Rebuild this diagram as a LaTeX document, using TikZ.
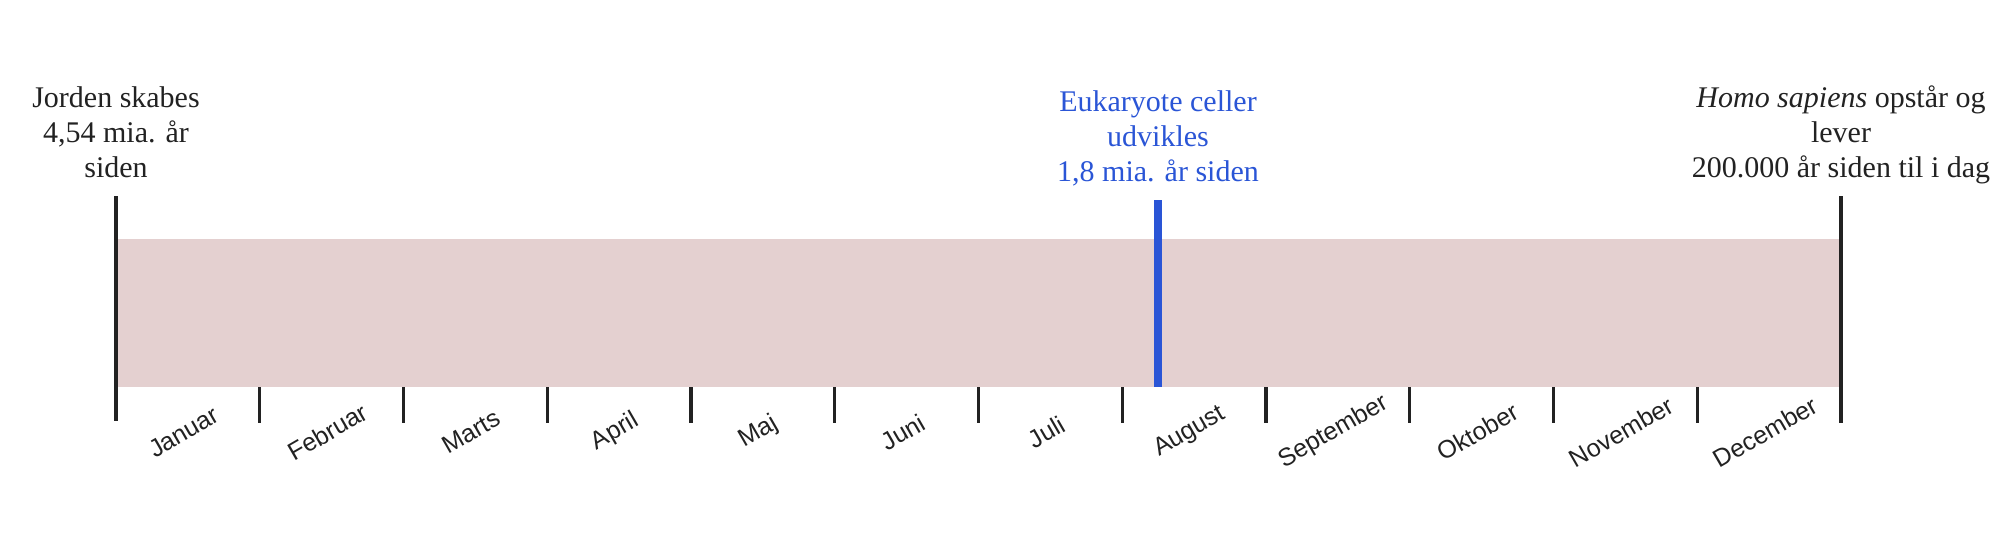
\documentclass[tikz,border=0pt]{standalone}
\usepackage{fontspec}
\setmainfont{Liberation Serif}
\newfontfamily\monthfont{Liberation Sans}
\usetikzlibrary{positioning}
\definecolor{Ink}{HTML}{222222}
\definecolor{Band}{HTML}{E4D0D0}
\definecolor{Event}{HTML}{2A55D6}
\tikzset{band/.style={fill=Band,draw=none},
  era/.style={line width=1.6pt,draw=Ink},
  evtline/.style={line width=4pt,draw=Event},
  evttext/.style={align=center,inner sep=0pt,text depth=0pt,
    font=\fontsize{15}{17.5}\selectfont,text=Ink},
  monthlabel/.style={rotate=30,inner sep=0pt,
    font=\monthfont\fontsize{12.5}{14}\selectfont,text=Ink}}
\begin{document}
\begin{tikzpicture}[x=0.5pt,y=-0.5pt]
  \useasboundingbox (0,0) rectangle (2007,537);
  \fill[band] (116,239) rectangle (1842,387);
  % start and end of the year
  \coordinate (starttop) at (116,196);
  \coordinate (startbot) at (116,421);
  \coordinate (endtop) at (1841,196);
  \coordinate (endbot) at (1841,423);
  \draw[era] (starttop) -- (startbot);
  \draw[era] (endtop) -- (endbot);
  \node[evttext,above=9pt of starttop] (earth) {Jorden skabes\\4,54 mia. år\\siden};
  \node[evttext,above=9pt of endtop] (homo) {\textit{Homo sapiens} opstår og\\lever\\200.000 år siden til i dag};
  % month ticks
  \foreach \i in {1,...,11}{
    \coordinate (t\i) at ({116+143.75*\i},387);
    \coordinate (b\i) at ({116+143.75*\i},423);
    \draw[era] (t\i) -- (b\i);
  }
  \foreach \m [count=\i from 0] in {Januar,Februar,Marts,April,Maj,Juni,Juli,August,September,Oktober,November,December}
    \node[monthlabel] (m\i) at ({116+143.75*(\i+0.5)-4},432) {\m};
  % eukaryote event
  \coordinate (euktop) at (1158,200);
  \coordinate (eukbot) at (1158,387);
  \draw[evtline] (euktop) -- (eukbot);
  \node[evttext,text=Event,above=9pt of euktop] (euk) {Eukaryote celler\\udvikles\\1,8 mia. år siden};
\end{tikzpicture}
\end{document}
